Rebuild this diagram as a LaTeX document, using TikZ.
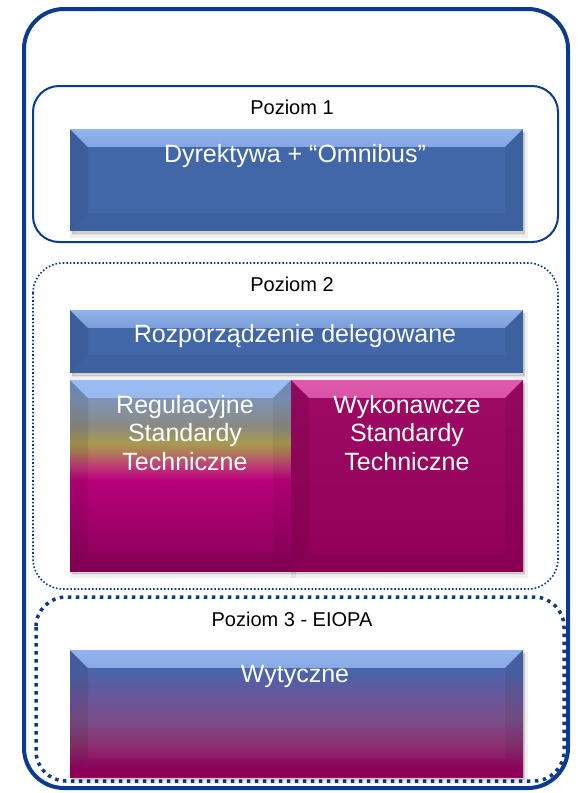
\documentclass[tikz,border=0pt]{standalone}
\usepackage{fontspec}
\setmainfont{Liberation Sans}
\usetikzlibrary{fadings}

\definecolor{outerblue}{HTML}{0B3A8E}
\definecolor{boxblue}{HTML}{4167A8}
\definecolor{magtop}{HTML}{9E0A64}
\definecolor{magbot}{HTML}{910058}
\definecolor{hiblue}{HTML}{A6C8FF}
\definecolor{himag}{HTML}{F070C0}
% Regulacyjne gradient
\definecolor{rA}{HTML}{880057}
\definecolor{rB}{HTML}{B8007A}
\definecolor{rC}{HTML}{C03A78}
\definecolor{rD}{HTML}{B07A5A}
\definecolor{rE}{HTML}{A89A50}
\definecolor{rF}{HTML}{8A8A80}
\definecolor{rG}{HTML}{7F94B8}
\definecolor{rH}{HTML}{6E90CC}
% Wytyczne gradient
\definecolor{wA}{HTML}{980058}
\definecolor{wB}{HTML}{950060}
\definecolor{wC}{HTML}{8A3070}
\definecolor{wD}{HTML}{7A4E8A}
\definecolor{wE}{HTML}{6A5598}
\definecolor{wF}{HTML}{4A64AA}

% positions mapped into 25bp..75bp (the part that is fitted to the path)
\pgfdeclareverticalshading{regshade}{100bp}{color(0bp)=(rA); color(25bp)=(rA); color(48.8bp)=(rB); color(52.5bp)=(rC); color(56bp)=(rD); color(58.5bp)=(rE); color(63bp)=(rF); color(70bp)=(rG); color(75bp)=(rH); color(100bp)=(rH)}
\pgfdeclareverticalshading{wytshade}{100bp}{color(0bp)=(wA); color(25bp)=(wA); color(28bp)=(wB); color(37.5bp)=(wC); color(47.5bp)=(wD); color(55.5bp)=(wE); color(67bp)=(wF); color(75bp)=(wF); color(100bp)=(wF)}

\tikzset{
  bevel/.style={path picture={
    \fill[#1, fill opacity=0.8, path fading=south]
      (path picture bounding box.north west) -- (path picture bounding box.north east)
      -- ([shift={(-18pt,-18pt)}]path picture bounding box.north east)
      -- ([shift={(18pt,-18pt)}]path picture bounding box.north west) -- cycle;
    \fill[black, fill opacity=0.08]
      (path picture bounding box.north west) -- ([shift={(18pt,-18pt)}]path picture bounding box.north west)
      -- ([shift={(18pt,18pt)}]path picture bounding box.south west) -- (path picture bounding box.south west) -- cycle;
    \fill[black, fill opacity=0.06]
      (path picture bounding box.north east) -- ([shift={(-18pt,-18pt)}]path picture bounding box.north east)
      -- ([shift={(-18pt,18pt)}]path picture bounding box.south east) -- (path picture bounding box.south east) -- cycle;
    \fill[black, fill opacity=0.05]
      (path picture bounding box.south west) -- (path picture bounding box.south east)
      -- ([shift={(-18pt,18pt)}]path picture bounding box.south east)
      -- ([shift={(18pt,18pt)}]path picture bounding box.south west) -- cycle;
  }},
  softshadow/.style={
    preaction={fill=black, fill opacity=0.06, draw=black, draw opacity=0.06, line width=5pt, transform canvas={shift={(2pt,-4pt)}}},
    preaction={fill=black, fill opacity=0.12, transform canvas={shift={(2pt,-3pt)}}}},
  boxnode/.style={anchor=north west, inner sep=0pt, outer sep=0pt, draw=none, softshadow},
  lbl/.style={anchor=base, inner sep=0pt, font=\fontsize{20}{24}\selectfont, text=black},
  boxtxt/.style={anchor=base, inner sep=0pt, align=center, font=\fontsize{25}{28.5}\selectfont, text=white},
  outerline/.style={draw=outerblue, line width=4pt, rounded corners=40pt},
  solidlevel/.style={draw=outerblue, line width=2pt, rounded corners=26pt},
  finedots/.style={draw=outerblue, line width=1.6pt, dash pattern=on 1.6pt off 2pt, rounded corners=30pt},
  squaredots/.style={draw=outerblue, line width=3.5pt, dash pattern=on 3.5pt off 4.5pt, rounded corners=30pt}
}

\begin{document}
\begin{tikzpicture}[x=1pt,y=-1pt]
\useasboundingbox (0,0) rectangle (578,793);

% containers
\draw[outerline] (24,9) rectangle (568,788);
\draw[solidlevel] (33,86) rectangle (558,242);
\draw[finedots] (33,263) rectangle (558,589);
\draw[squaredots] (36,597) rectangle (564,781);

% boxes
\node[boxnode, fill=boxblue, bevel=hiblue, minimum width=453pt, minimum height=102pt] (dyr) at (70,129) {};
\node[boxnode, fill=boxblue, bevel=hiblue, minimum width=453pt, minimum height=63pt] (roz) at (70,310) {};
\node[boxnode, shading=regshade, bevel=hiblue, minimum width=221pt, minimum height=191pt] (reg) at (70,380) {};
\node[boxnode, top color=magtop, bottom color=magbot, bevel=himag, minimum width=232pt, minimum height=191pt] (wyk) at (291,380) {};
\node[boxnode, shading=wytshade, bevel=hiblue, minimum width=453pt, minimum height=127pt] (wyt) at (70,650) {};

% labels
\node[lbl] (p1) at (292,114) {Poziom 1};
\node[lbl] (p2) at (292,291) {Poziom 2};
\node[lbl] (p3) at (292,626) {Poziom 3 - EIOPA};

\node[boxtxt] (tdyr) at (295,162) {Dyrektywa + “Omnibus”};
\node[boxtxt] (troz) at (295,342) {Rozporządzenie delegowane};
\node[boxtxt] (treg) at (185,470) {Regulacyjne\\Standardy\\Techniczne};
\node[boxtxt] (twyk) at (407,470) {Wykonawcze\\Standardy\\Techniczne};
\node[boxtxt] (twyt) at (295,682) {Wytyczne};
\end{tikzpicture}
\end{document}
